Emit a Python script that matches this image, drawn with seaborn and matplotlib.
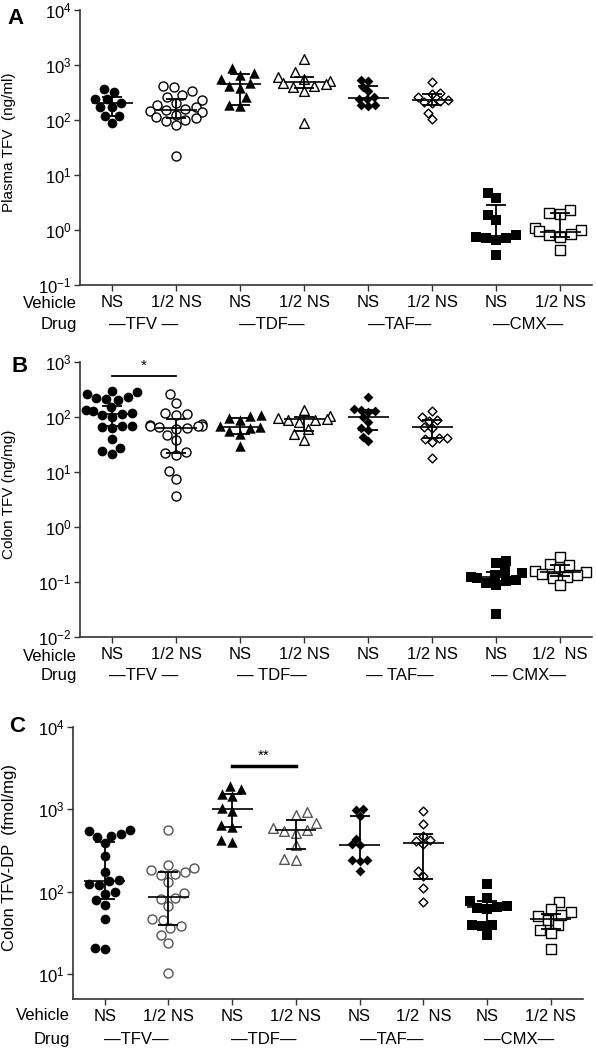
import numpy as np
import matplotlib
matplotlib.use("Agg")
import matplotlib.pyplot as plt
import seaborn as sns

plt.rcParams['font.family'] = ['Liberation Sans', 'DejaVu Sans']
plt.rcParams['mathtext.default'] = 'regular'

# group keys (one per column) and the labels drawn under the axis
groups = ["TFV NS", "TFV 1/2", "TDF NS", "TDF 1/2", "TAF NS", "TAF 1/2", "CMX NS", "CMX 1/2"]
drugs = ["TFV", "TDF", "TAF", "CMX"]

# ---- Panel A: Plasma TFV (ng/ml)
a_tfv_ns = [361, 323, 241, 241, 200, 170, 170, 118, 118, 89]
a_tfv_half = [415, 390, 330, 290, 260, 230, 200, 190, 175, 160, 150, 145, 140, 125, 115, 110, 100, 95, 80, 22]
a_tdf_ns = [880, 700, 650, 560, 470, 420, 380, 260, 190, 180]
a_tdf_half = [1300, 760, 600, 560, 520, 480, 460, 420, 390, 330, 87]
a_taf_ns = [540, 520, 400, 330, 260, 245, 240, 190, 185, 180]
a_taf_half = [500, 310, 300, 265, 235, 225, 215, 205, 135, 103]
a_cmx_ns = [4.8, 3.8, 1.9, 1.5, 0.8, 0.75, 0.7, 0.7, 0.65, 0.35]
a_cmx_half = [2.3, 2.0, 1.95, 1.1, 1.0, 0.95, 0.85, 0.8, 0.75, 0.43]
a_median = [206, 151, 446, 484, 251, 231, 0.73, 0.91]
a_q1 = [118, 107, 191, 377, 180, 186, 0.70, 0.74]
a_q3 = [258, 238, 686, 614, 415, 293, 2.85, 2.0]

# ---- Panel B: Colon TFV (ng/mg)
b_tfv_ns = [300, 280, 260, 230, 220, 215, 200, 150, 135, 130, 120, 115, 110, 100, 70, 68, 65, 62, 40, 27, 24, 21]
b_tfv_half = [260, 180, 120, 115, 110, 75, 72, 70, 70, 68, 65, 62, 60, 48, 38, 23, 22, 20, 10.5, 7.5, 3.6]
b_tdf_ns = [110, 105, 95, 90, 70, 66, 62, 55, 50, 30]
b_tdf_half = [135, 105, 98, 92, 90, 88, 80, 60, 50, 39]
b_taf_ns = [235, 140, 135, 130, 125, 100, 80, 62, 58, 44, 36]
b_taf_half = [130, 100, 90, 86, 66, 64, 42, 41, 40, 35, 18]
b_cmx_ns = [0.24, 0.22, 0.16, 0.145, 0.135, 0.125, 0.118, 0.11, 0.104, 0.097, 0.09, 0.026]
b_cmx_half = [0.28, 0.21, 0.20, 0.17, 0.16, 0.15, 0.14, 0.135, 0.125, 0.12, 0.088]
b_median = [114, 62, 65, 91, 99, 65, 0.125, 0.154]
b_q1 = [69, 22, 50, 56, 59, 41, 0.105, 0.13]
b_q3 = [161, 92, 95, 100, 134, 88, 0.15, 0.20]

# ---- Panel C: Colon TFV-DP (fmol/mg)
c_tfv_ns = [560, 550, 500, 480, 460, 390, 270, 175, 140, 135, 125, 120, 100, 95, 80, 70, 47, 21, 20]
c_tfv_half = [560, 210, 195, 185, 175, 165, 160, 130, 97, 85, 82, 67, 47, 45, 38, 36, 30, 24, 10.3]
c_tdf_ns = [1950, 1750, 1550, 1450, 1050, 950, 650, 620, 420, 400]
c_tdf_half = [920, 850, 690, 600, 560, 540, 520, 370, 250, 245]
c_taf_ns = [1000, 990, 840, 440, 375, 370, 245, 240, 235, 180]
c_taf_half = [950, 670, 480, 420, 410, 375, 180, 155, 110, 75]
c_cmx_ns = [125, 85, 78, 68, 66, 64, 62, 40, 39, 38, 30]
c_cmx_half = [75, 62, 57, 53, 51, 45, 40, 34, 32, 20]
c_median = [137, 87, 1000, 560, 373, 389, 65, 47]
c_q1 = [81, 39, 620, 331, 239, 141, 40, 35]
c_q3 = [400, 172, 1530, 735, 837, 507, 77, 54]

markers = ['o', 'o', '^', '^', 'D', 'D', 's', 's']
msizes = [7, 7, 7.5, 7.5, 5, 5, 7, 7]
filled = [True, False] * 4

fig = plt.figure(figsize=(5.97, 10.5), dpi=100)
axA = fig.add_axes([0.134, 0.7286, 0.858, 0.2619])
axB = fig.add_axes([0.134, 0.3933, 0.858, 0.2619])
axC = fig.add_axes([0.122, 0.0486, 0.854, 0.259])


def draw_panel(ax, data, median, q1, q3, ylim, ylabel, vehicle, drug_labels, edge, row_off, ylab_size):
    for i, vals in enumerate(data):
        if filled[i]:
            sns.swarmplot(x=[groups[i]] * len(vals), y=vals, order=groups, ax=ax,
                          marker=markers[i], size=msizes[i], color='black',
                          linewidth=0, log_scale=True, warn_thresh=1)
        else:
            sns.swarmplot(x=[groups[i]] * len(vals), y=vals, order=groups, ax=ax,
                          marker=markers[i], size=msizes[i] - 0.5, color='white',
                          edgecolor=edge[i], linewidth=1.0, log_scale=True, warn_thresh=1)
    pos = np.arange(len(groups))
    med = np.array(median)
    err = [med - np.array(q1), np.array(q3) - med]
    ax.errorbar(pos, med, yerr=err, fmt='none', ecolor='black', elinewidth=1.3,
                capsize=7, capthick=1.3, zorder=4)
    ax.hlines(med, pos - 0.32, pos + 0.32, color='black', lw=1.2, zorder=4)

    ax.set_yscale('log')
    ax.set_ylim(*ylim)
    ax.set_xlim(-0.5, 7.5)
    ax.yaxis.set_minor_locator(matplotlib.ticker.NullLocator())
    ax.set_xticks(pos)
    ax.set_xticklabels(vehicle, fontsize=12)
    ax.tick_params(axis='y', labelsize=12, length=4, width=1, pad=2, color='#333333')
    ax.tick_params(axis='x', length=4, width=1, pad=3, color='#333333')
    ax.set_xlabel('')
    ax.set_ylabel(ylabel, fontsize=ylab_size)
    for s in ['top', 'right']:
        ax.spines[s].set_visible(False)
    for s in ['left', 'bottom']:
        ax.spines[s].set_color('#333333')
        ax.spines[s].set_linewidth(1.2)

    tr = ax.get_xaxis_transform()
    ax.annotate('Vehicle', xy=(0, 0), xycoords='axes fraction', xytext=(-3, -row_off[0]),
                textcoords='offset pixels', ha='right', va='center', fontsize=12)
    ax.annotate('Drug', xy=(0, 0), xycoords='axes fraction', xytext=(-3, -row_off[1]),
                textcoords='offset pixels', ha='right', va='center', fontsize=12)
    for k, lab in enumerate(drug_labels):
        ax.annotate(lab, xy=(2 * k + 0.5, 0), xycoords=tr, xytext=(0, -row_off[1]),
                    textcoords='offset pixels', ha='center', va='center', fontsize=12)


vehicle_a = ["NS", "1/2 NS"] * 4
edgeA = ['black'] * 8
draw_panel(axA, [a_tfv_ns, a_tfv_half, a_tdf_ns, a_tdf_half, a_taf_ns, a_taf_half, a_cmx_ns, a_cmx_half],
           a_median, a_q1, a_q3, (0.1, 1e4), "Plasma TFV  (ng/ml)", vehicle_a,
           ["—TFV —", "—TDF—", "—TAF—", "—CMX—"], edgeA, (19, 40), 11)

vehicle_b = ["NS", "1/2 NS", "NS", "1/2 NS", "NS", "1/2 NS", "NS", "1/2  NS"]
draw_panel(axB, [b_tfv_ns, b_tfv_half, b_tdf_ns, b_tdf_half, b_taf_ns, b_taf_half, b_cmx_ns, b_cmx_half],
           b_median, b_q1, b_q3, (0.01, 1e3), "Colon TFV (ng/mg)", vehicle_b,
           ["—TFV —", "— TDF—", "— TAF—", "— CMX—"], edgeA, (19, 38), 11)

vehicle_c = ["NS", "1/2 NS", "NS", "1/2 NS", "NS", "1/2  NS", "NS", "1/2 NS"]
edgeC = ['black', '#555555', 'black', '#555555', 'black', 'black', 'black', 'black']
draw_panel(axC, [c_tfv_ns, c_tfv_half, c_tdf_ns, c_tdf_half, c_taf_ns, c_taf_half, c_cmx_ns, c_cmx_half],
           c_median, c_q1, c_q3, (5, 1e4), "Colon TFV-DP  (fmol/mg)", vehicle_c,
           ["—TFV—", "—TDF—", "—TAF—", "—CMX—"], edgeC, (17, 41), 12)

axA.yaxis.set_label_coords(-0.125, 0.52)
axB.yaxis.set_label_coords(-0.125, 0.52)
axC.yaxis.set_label_coords(-0.11, 0.52)

# significance bars
sig_b = 556
axB.plot([0, 1], [sig_b, sig_b], color='black', lw=1.3)
axB.text(0.5, sig_b * 1.15, "*", ha='center', va='bottom', fontsize=11)
sig_c = 3365
axC.plot([2, 3], [sig_c, sig_c], color='black', lw=2.5)
axC.text(2.5, sig_c * 1.1, "**", ha='center', va='bottom', fontsize=11)

fig.text(15 / 597, 1 - 18 / 1050, "A", fontsize=16, fontweight='bold', ha='center', va='center')
fig.text(20 / 597, 1 - 367 / 1050, "B", fontsize=16, fontweight='bold', ha='center', va='center')
fig.text(17 / 597, 1 - 727 / 1050, "C", fontsize=16, fontweight='bold', ha='center', va='center')

fig.savefig("out.png", dpi=100)
